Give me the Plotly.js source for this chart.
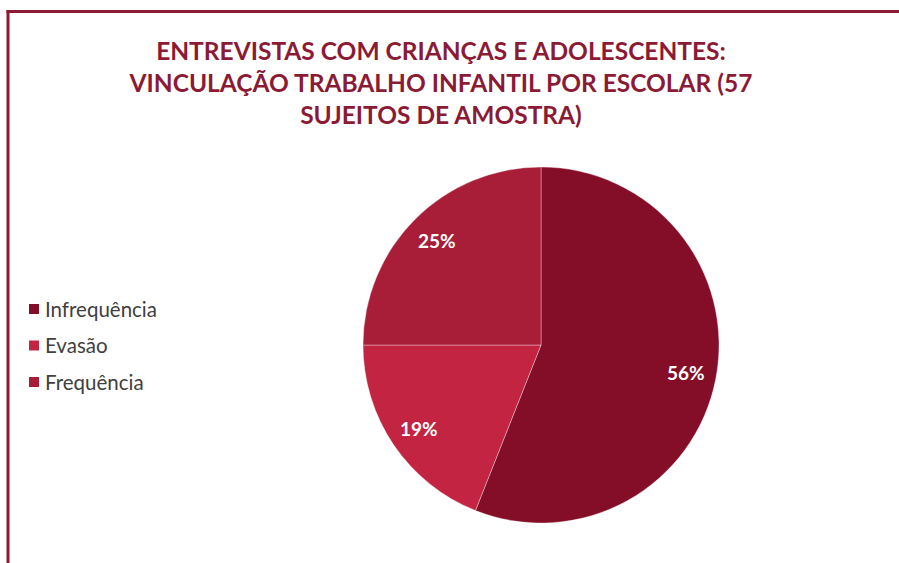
<!DOCTYPE html>
<html>
<head>
<meta charset="utf-8">
<script src="https://cdn.plot.ly/plotly-3.0.1.min.js"></script>
<style>html,body{margin:0;padding:0;background:#fff;}#chart{width:899px;height:563px;}</style>
</head>
<body>
<div id="chart"></div>
<script>
const categories = ["Infrequência", "Evasão", "Frequência"];
const values = [56, 19, 25];
const colors = ["#840E27", "#C22441", "#A81E38"];
const titleText = "ENTREVISTAS COM CRIANÇAS E ADOLESCENTES:<br>VINCULAÇÃO TRABALHO INFANTIL POR ESCOLAR (57<br>SUJEITOS DE AMOSTRA)";

const W = 899, H = 563;
const FONT = "Lato, 'Open Sans', sans-serif";

// pie placement (pixels)
const cx = 541, cy = 345, R = 178;

const trace = {
  type: "pie",
  labels: categories,
  values: values,
  sort: false,
  direction: "clockwise",
  rotation: 0,
  marker: { colors: colors, line: { color: "rgba(255,255,255,0.35)", width: 1 } },
  textinfo: "none",
  hoverinfo: "label+percent",
  showlegend: false,
  domain: { x: [(cx - R) / W, (cx + R) / W], y: [1 - (cy + R) / H, 1 - (cy - R) / H] }
};

// percent labels placed like the original (about 0.83 of the radius, at each slice's mid-angle)
const total = values.reduce((a, b) => a + b, 0);
const annotations = [];
let cum = 0;
values.forEach((v, i) => {
  const mid = (cum + v / 2) / total * 2 * Math.PI;
  cum += v;
  const px = cx + 0.83 * R * Math.sin(mid);
  const py = cy - 0.83 * R * Math.cos(mid);
  annotations.push({
    xref: "paper", yref: "paper", x: px / W, y: 1 - py / H,
    xanchor: "center", yanchor: "middle", showarrow: false,
    text: Math.round(v / total * 100) + "%",
    font: { family: FONT, size: 19, color: "#ffffff", weight: "bold" }
  });
});

// legend drawn as squares + text
const legendX = 29, legendY0 = 309, legendStep = 36.5, sq = 10;
const shapes = [
  { type: "line", xref: "paper", yref: "paper", x0: 8 / W, x1: 8 / W, y0: 0, y1: 1 - 10 / H, line: { color: "#8B1A35", width: 3 } },
  { type: "line", xref: "paper", yref: "paper", x0: 6.5 / W, x1: 1, y0: 1 - 11.5 / H, y1: 1 - 11.5 / H, line: { color: "#8B1A35", width: 3 } }
];
categories.forEach((c, i) => {
  const yc = legendY0 + i * legendStep;
  shapes.push({
    type: "rect", xref: "paper", yref: "paper",
    x0: legendX / W, x1: (legendX + sq) / W,
    y0: 1 - (yc + sq / 2) / H, y1: 1 - (yc - sq / 2) / H,
    fillcolor: colors[i], line: { width: 0 }
  });
  annotations.push({
    xref: "paper", yref: "paper", x: (legendX + sq + 4) / W, y: 1 - yc / H,
    xanchor: "left", yanchor: "middle", showarrow: false,
    text: c,
    font: { family: FONT, size: 20.5, color: "#404040" }
  });
});

const layout = {
  width: W, height: H,
  margin: { l: 0, r: 0, t: 0, b: 0 },
  paper_bgcolor: "#ffffff",
  title: {
    text: titleText,
    x: 441 / W, xanchor: "center", xref: "paper",
    y: 1 - 60 / H, yanchor: "top", yref: "paper",
    font: { family: FONT, size: 24.5, color: "#8B1A35", weight: "bold" }
  },
  showlegend: false,
  shapes: shapes,
  annotations: annotations
};

Plotly.newPlot("chart", [trace], layout, { displayModeBar: false, staticPlot: true });
</script>
</body>
</html>
